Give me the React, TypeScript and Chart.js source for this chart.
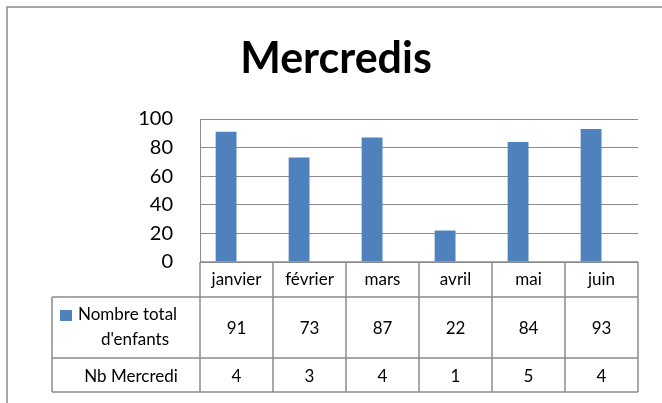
import React, { useEffect, useRef } from 'react';
import { Chart, registerables } from 'chart.js';

Chart.register(...registerables);

const chartTitle = 'Mercredis';
const categories = ['janvier', 'février', 'mars', 'avril', 'mai', 'juin'];
const seriesLabelLines = ['Nombre total', "d'enfants"];
const totalEnfants = [91, 73, 87, 22, 84, 93];
const extraRowLabel = 'Nb Mercredi';
const nbMercredi = [4, 3, 4, 1, 5, 4];
const yMin = 0;
const yMax = 100;
const yStep = 20;

const FONT = 'Lato, "Liberation Sans", sans-serif';
const BAR_COLOR = '#4F81BD';
const GRID_COLOR = '#8C8C8C';
const LINE_COLOR = '#8C8C8C';

const tablePlugin = {
  id: 'dataTable',
  afterDraw(chart: any) {
    const ctx = chart.ctx as CanvasRenderingContext2D;
    const xs = chart.scales.x;
    const area = chart.chartArea;
    const n = categories.length;
    const half = (xs.getPixelForValue(1) - xs.getPixelForValue(0)) / 2;
    const edges: number[] = [];
    for (let i = 0; i < n; i++) edges.push(xs.getPixelForValue(i) - half);
    edges.push(xs.getPixelForValue(n - 1) + half);
    const r0 = area.bottom;
    const r1 = r0 + 35;
    const r2 = r1 + 61;
    const r3 = r2 + 34;
    const tableLeft = 52;
    const right = edges[n];

    ctx.save();
    // outer chart border
    ctx.strokeStyle = LINE_COLOR;
    ctx.lineWidth = 1.5;
    ctx.beginPath();
    ctx.moveTo(7, chart.height + 5);
    ctx.lineTo(7, 7);
    ctx.lineTo(chart.width + 5, 7);
    ctx.stroke();

    // title
    ctx.fillStyle = '#000';
    ctx.font = `bold 43px ${FONT}`;
    ctx.textAlign = 'center';
    ctx.textBaseline = 'alphabetic';
    ctx.fillText(chartTitle, 336, 73);

    // table lines
    ctx.strokeStyle = LINE_COLOR;
    ctx.lineWidth = 1.5;
    ctx.beginPath();
    ctx.moveTo(edges[0], r0);
    ctx.lineTo(right, r0);
    for (const y of [r1, r2, r3]) {
      ctx.moveTo(tableLeft, y);
      ctx.lineTo(right, y);
    }
    for (const x of edges) {
      ctx.moveTo(x, r0);
      ctx.lineTo(x, r3);
    }
    ctx.moveTo(tableLeft, r1);
    ctx.lineTo(tableLeft, r3);
    ctx.stroke();

    // cell text
    ctx.fillStyle = '#000';
    ctx.font = `17px ${FONT}`;
    ctx.textAlign = 'center';
    for (let i = 0; i < n; i++) {
      const cx = xs.getPixelForValue(i);
      ctx.fillText(categories[i], cx, r0 + 23);
      ctx.fillText(String(totalEnfants[i]), cx, r1 + 37);
      ctx.fillText(String(nbMercredi[i]), cx, r2 + 24);
    }

    // row headers
    ctx.fillStyle = BAR_COLOR;
    ctx.fillRect(60, r1 + 13, 12, 11);
    ctx.fillStyle = '#000';
    ctx.textAlign = 'left';
    ctx.fillText(seriesLabelLines[0], 78, r1 + 23);
    ctx.textAlign = 'center';
    ctx.fillText(seriesLabelLines[1], 135, r1 + 48);
    ctx.fillText(extraRowLabel, 131, r2 + 24);
    ctx.restore();
  },
};

export default function App() {
  const ref = useRef<HTMLCanvasElement | null>(null);
  useEffect(() => {
    if (!ref.current) return;
    const chart = new Chart(ref.current, {
      type: 'bar',
      data: {
        labels: categories,
        datasets: [
          {
            label: seriesLabelLines.join(' '),
            data: totalEnfants,
            backgroundColor: BAR_COLOR,
            barPercentage: 1,
            categoryPercentage: 0.571,
          },
          {
            label: extraRowLabel,
            data: nbMercredi,
            backgroundColor: 'rgba(0,0,0,0)',
            borderWidth: 0,
            barPercentage: 1,
            categoryPercentage: 0.571,
          },
        ],
      },
      options: {
        responsive: false,
        animation: false,
        layout: { padding: { left: 0, top: 119, right: 24, bottom: 141 } },
        plugins: {
          legend: { display: false },
          tooltip: { enabled: false },
          title: { display: false },
        },
        scales: {
          x: { display: false },
          y: {
            min: yMin,
            max: yMax,
            ticks: {
              stepSize: yStep,
              color: '#000',
              padding: 27,
              font: { family: FONT, size: 20 },
            },
            grid: { color: GRID_COLOR, drawTicks: false, lineWidth: 1 },
            border: { display: true, color: GRID_COLOR },
            afterFit(scale: any) {
              scale.width = 200;
            },
          },
        },
      },
      plugins: [tablePlugin],
    });
    return () => chart.destroy();
  }, []);
  return (
    <div style={{ position: 'absolute', left: 0, top: 0, width: 662, height: 403, background: '#fff' }}>
      <canvas ref={ref} width={662} height={403} />
    </div>
  );
}
